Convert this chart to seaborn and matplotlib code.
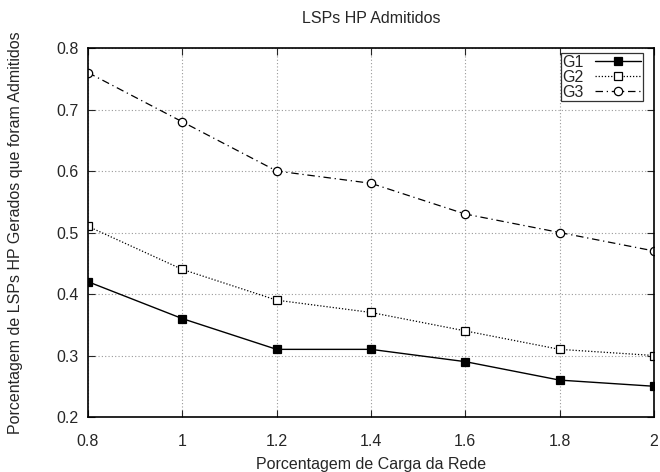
import matplotlib
matplotlib.use("Agg")
import matplotlib.pyplot as plt
import seaborn as sns
import pandas as pd

# data
carga = [0.8, 1.0, 1.2, 1.4, 1.6, 1.8, 2.0]
g1 = [0.42, 0.36, 0.31, 0.31, 0.29, 0.26, 0.25]
g2 = [0.51, 0.44, 0.39, 0.37, 0.34, 0.31, 0.30]
g3 = [0.76, 0.68, 0.60, 0.58, 0.53, 0.50, 0.47]
x_ticks = [0.8, 1.0, 1.2, 1.4, 1.6, 1.8, 2.0]
x_labels = ["0.8", "1", "1.2", "1.4", "1.6", "1.8", "2"]
y_ticks = [0.2, 0.3, 0.4, 0.5, 0.6, 0.7, 0.8]

df = pd.DataFrame({"carga": carga * 3,
                   "valor": g1 + g2 + g3,
                   "grupo": ["G1"] * 7 + ["G2"] * 7 + ["G3"] * 7})

sns.set_style("ticks")
plt.rcParams["font.family"] = ["Liberation Sans", "DejaVu Sans"]
fs = 11.5

fig = plt.figure(figsize=(6.6, 4.72), dpi=100)
ax = fig.add_axes([0.1333, 0.1165, 0.8576, 0.7818])

styles = {
    "G1": dict(ls="-", marker="s", mfc="black", lw=1.0),
    "G2": dict(ls=(0, (1, 1.5)), marker="s", mfc="white", lw=0.9),
    "G3": dict(ls=(0, (6, 3, 1, 3)), marker="o", mfc="white", lw=0.9),
}
for nome, st in styles.items():
    sub = df[df["grupo"] == nome]
    sns.lineplot(data=sub, x="carga", y="valor", ax=ax, color="black",
                 linestyle=st["ls"], linewidth=st["lw"], marker=st["marker"],
                 markersize=6, markerfacecolor=st["mfc"], markeredgecolor="black",
                 markeredgewidth=0.9, label=nome)

ax.set_xlim(0.8, 2.0)
ax.set_ylim(0.2, 0.8)
ax.set_xticks(x_ticks)
ax.set_xticklabels(x_labels)
ax.set_yticks(y_ticks)
ax.tick_params(direction="in", length=5, top=True, right=True, labelsize=fs)
ax.tick_params(axis="x", pad=12)
ax.tick_params(axis="y", pad=7)
ax.grid(True, color="#999999", linestyle=(0, (1, 2)), linewidth=0.8)
for s in ax.spines.values():
    s.set_linewidth(1.2)
    s.set_color("black")

ax.set_title("LSPs HP Admitidos", fontsize=fs, pad=18)
ax.set_xlabel("Porcentagem de Carga da Rede", fontsize=fs, labelpad=6)
ax.set_ylabel("Porcentagem de LSPs HP Gerados que foram Admitidos", fontsize=fs, labelpad=24)

leg = ax.legend(loc="upper right", bbox_to_anchor=(0.98, 0.986), frameon=True, fancybox=False,
                edgecolor="black", fontsize=fs, markerfirst=False, handlelength=2.9,
                borderpad=0.1, labelspacing=0.0, handletextpad=0.7, borderaxespad=0.0)
leg.get_frame().set_linewidth(0.9)

fig.savefig("out.png", dpi=100)
